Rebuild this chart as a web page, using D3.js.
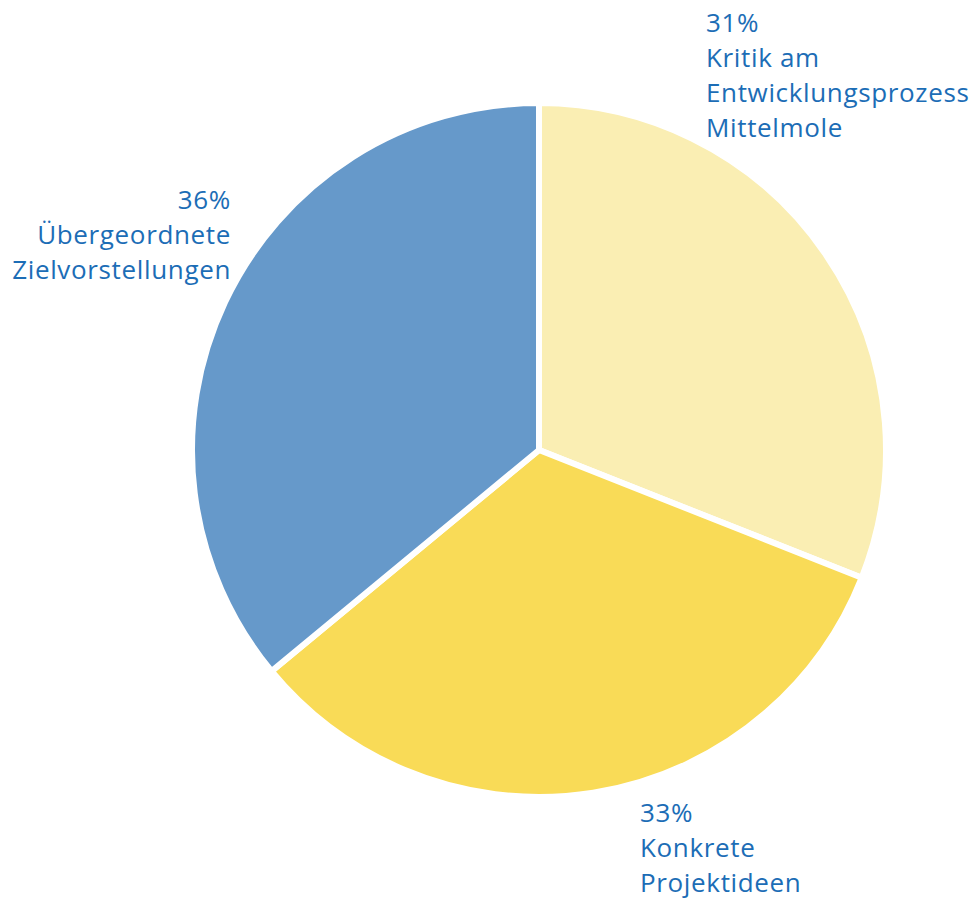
<!DOCTYPE html>
<html>
<head>
<meta charset="utf-8">
<script src="https://cdn.jsdelivr.net/npm/d3@7"></script>
<style>
  html, body { margin: 0; padding: 0; background: #fff; }
  svg { display: block; }
</style>
</head>
<body>
<svg id="chart" width="978" height="899"></svg>
<script>
// Shares of the three answer categories, in clockwise order from 12 o'clock
const categories = [
  ["Kritik am", "Entwicklungsprozess", "Mittelmole"],
  ["Konkrete", "Projektideen"],
  ["Übergeordnete", "Zielvorstellungen"]
];
const values = [31, 33, 36];
const colors = ["#FAEEB3", "#F9DB57", "#6699CA"];

// Label anchor per slice: [x, first baseline, text-anchor]
const labelPos = [
  [706, 32, "start"],
  [640, 822, "start"],
  [231, 209, "end"]
];

const svg = d3.select("#chart");
const cx = 539, cy = 450, radius = 347;

const pie = d3.pie().sort(null).value(d => d)(values);
const arc = d3.arc().innerRadius(0).outerRadius(radius);

const g = svg.append("g").attr("transform", `translate(${cx},${cy})`);
g.selectAll("path")
  .data(pie)
  .join("path")
  .attr("d", arc)
  .attr("fill", (d, i) => colors[i])
  .attr("stroke", "#fff")
  .attr("stroke-width", 6)
  .attr("stroke-linejoin", "miter");

const lineH = 35;
const labels = svg.selectAll("text.lbl")
  .data(pie)
  .join("text")
  .attr("class", "lbl")
  .attr("font-family", "'Open Sans', sans-serif")
  .attr("font-size", 26)
  .attr("letter-spacing", 0.65)
  .attr("fill", "#1C6DB6")
  .attr("text-anchor", (d, i) => labelPos[i][2]);

labels.each(function(d, i) {
  const t = d3.select(this);
  const lines = [values[i] + "%"].concat(categories[i]);
  lines.forEach((s, k) => {
    t.append("tspan")
      .attr("x", labelPos[i][0])
      .attr("y", labelPos[i][1] + k * lineH)
      .text(s);
  });
});
</script>
</body>
</html>
